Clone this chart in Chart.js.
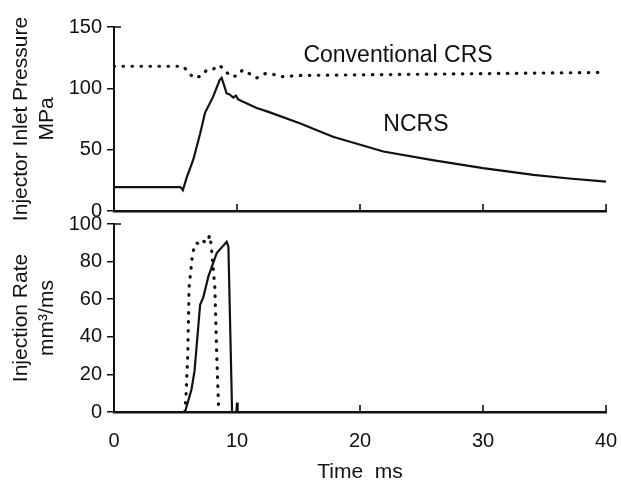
<!DOCTYPE html>
<html>
<head>
<meta charset="utf-8">
<script src="https://cdn.jsdelivr.net/npm/chart.js@4/dist/chart.umd.min.js"></script>
<style>
  html, body { margin: 0; background: #fff; }
  .panel { position: absolute; left: 0; width: 621px; }
</style>
</head>
<body>
<div class="panel" style="top:0;height:224px"><canvas id="pressureChart" width="621" height="224"></canvas></div>
<div class="panel" style="top:212px;height:277px"><canvas id="rateChart" width="621" height="277"></canvas></div>
<script>
const timeTicks = [0, 10, 20, 30, 40];
const pressureTicks = [0, 50, 100, 150];
const rateTicks = [0, 20, 40, 60, 80, 100];

// injector inlet pressure, MPa
const ncrsPressT = [0, 5.4, 5.6, 5.9, 6.45, 7.0, 7.4, 8.05, 8.6, 8.75, 8.9, 9.15, 9.4, 9.7, 9.9, 10.1, 10.5, 11.6, 12.5, 15.1, 17.8, 21.9, 25.9, 30, 34.1, 37, 40];
const ncrsPressV = [19.5, 19.5, 17, 27, 42, 63, 80, 93, 107, 108.5, 104, 96, 95, 92.5, 94, 91, 89, 84, 81, 71.5, 60.5, 48.5, 41.5, 35, 29.5, 26.5, 24];
const crsPressT = [0, 5.6, 6.05, 6.45, 7.1, 7.5, 8.05, 8.5, 9.0, 9.4, 10.0, 10.45, 11.1, 11.6, 12.3, 12.8, 13.3, 13.8, 15, 20, 30, 40];
const crsPressV = [118, 118, 113.5, 108.5, 110, 114.5, 115.5, 119, 115.5, 110, 110, 115, 111.5, 108.5, 112, 112, 110, 109.5, 110.5, 111, 112, 113];

// injection rate, mm3/ms
const ncrsRateT = [0, 5.77, 6.3, 6.55, 7.0, 7.26, 7.67, 8.35, 9.16, 9.3, 9.6, 9.95, 10.0, 10.05, 40];
const ncrsRateV = [0, 0, 12, 22, 57, 61, 72, 84.5, 90.5, 88, 0, 0, 5, 0, 0];
const crsRateT = [5.75, 5.85, 6.0, 6.1, 6.4, 6.7, 7.0, 7.25, 7.5, 7.8, 7.95, 8.2, 8.35, 8.5, 8.55];
const crsRateV = [0, 8, 31, 66, 85, 90, 89, 91, 90, 94, 85, 66, 31, 3, 0];

const INK = "#111";
Chart.defaults.font.family = '"Liberation Sans", Arial, Helvetica, sans-serif';
Chart.defaults.color = INK;

const pts = (ts, vs) => ts.map((t, i) => ({ x: t, y: vs[i] }));
const solid = (data) => ({ data, borderColor: INK, borderWidth: 2.2, pointRadius: 0, tension: 0 });
const dotted = (data) => ({ data, borderColor: INK, borderWidth: 3.2, borderDash: [0.5, 8.5], borderCapStyle: "round", pointRadius: 0, tension: 0 });

// inward x ticks and the little bracket at the top of the y axis
const axisDecor = {
  id: "axisDecor",
  afterDraw(chart) {
    const { ctx, scales: { x, y } } = chart;
    ctx.save();
    ctx.strokeStyle = INK;
    ctx.lineWidth = 1.6;
    ctx.beginPath();
    timeTicks.slice(1).forEach((t) => {
      const px = x.getPixelForValue(t);
      ctx.moveTo(px, y.bottom);
      ctx.lineTo(px, y.bottom - 7);
    });
    ctx.moveTo(x.left, y.top);
    ctx.lineTo(x.left + 7, y.top);
    ctx.stroke();
    ctx.restore();
  }
};

const curveLabels = {
  id: "curveLabels",
  afterDatasetsDraw(chart) {
    const { ctx, scales: { x, y } } = chart;
    ctx.save();
    ctx.fillStyle = INK;
    ctx.font = '23px "Liberation Sans", Arial, sans-serif';
    ctx.textBaseline = "middle";
    ctx.fillText("Conventional CRS", x.getPixelForValue(15.4), y.getPixelForValue(127));
    ctx.fillText("NCRS", x.getPixelForValue(21.9), y.getPixelForValue(70));
    ctx.restore();
  }
};

function yAxis(ticks, title) {
  return {
    type: "linear", min: ticks[0], max: ticks[ticks.length - 1],
    afterBuildTicks: (s) => { s.ticks = ticks.map((v) => ({ value: v })); },
    afterFit: (s) => { s.width = 114; s.paddingTop = 0; s.paddingBottom = 0; },
    border: { display: true, color: INK, width: 2 },
    grid: { display: true, drawOnChartArea: false, drawTicks: true, tickLength: 7, color: INK, lineWidth: 1.5 },
    ticks: { padding: 5, font: { size: 20 }, color: INK },
    title: { display: true, text: title, font: { size: 21, lineHeight: 1.24 }, color: INK, padding: { top: 8, bottom: 0 } }
  };
}

function xAxis(showLabels) {
  return {
    type: "linear", min: 0, max: 40,
    afterBuildTicks: (s) => { s.ticks = timeTicks.map((v) => ({ value: v })); },
    afterFit: (s) => { s.height = showLabels ? 77 : 0; s.paddingLeft = 0; s.paddingRight = 0; },
    border: { display: true, color: INK, width: 2.5 },
    grid: { display: false, drawTicks: false },
    ticks: { display: showLabels, padding: 17, font: { size: 20 }, color: INK, maxRotation: 0 },
    title: { display: showLabels, text: "Time  ms", font: { size: 21 }, color: INK, padding: { top: 0, bottom: 4 } }
  };
}

const common = {
  responsive: false,
  animation: false,
  plugins: { legend: { display: false }, tooltip: { enabled: false } }
};

new Chart(document.getElementById("pressureChart"), {
  type: "line",
  data: { datasets: [solid(pts(ncrsPressT, ncrsPressV)), dotted(pts(crsPressT, crsPressV))] },
  options: {
    ...common,
    layout: { padding: { top: 27, right: 15, bottom: 13, left: 0 } },
    scales: { x: xAxis(false), y: yAxis(pressureTicks, ["Injector Inlet Pressure", "MPa"]) }
  },
  plugins: [axisDecor, curveLabels]
});

new Chart(document.getElementById("rateChart"), {
  type: "line",
  data: { datasets: [solid(pts(ncrsRateT, ncrsRateV)), dotted(pts(crsRateT, crsRateV))] },
  options: {
    ...common,
    layout: { padding: { top: 12, right: 15, bottom: 0, left: 0 } },
    scales: { x: xAxis(true), y: yAxis(rateTicks, ["Injection Rate", "mm\u00b3/ms"]) }
  },
  plugins: [axisDecor]
});
</script>
</body>
</html>
